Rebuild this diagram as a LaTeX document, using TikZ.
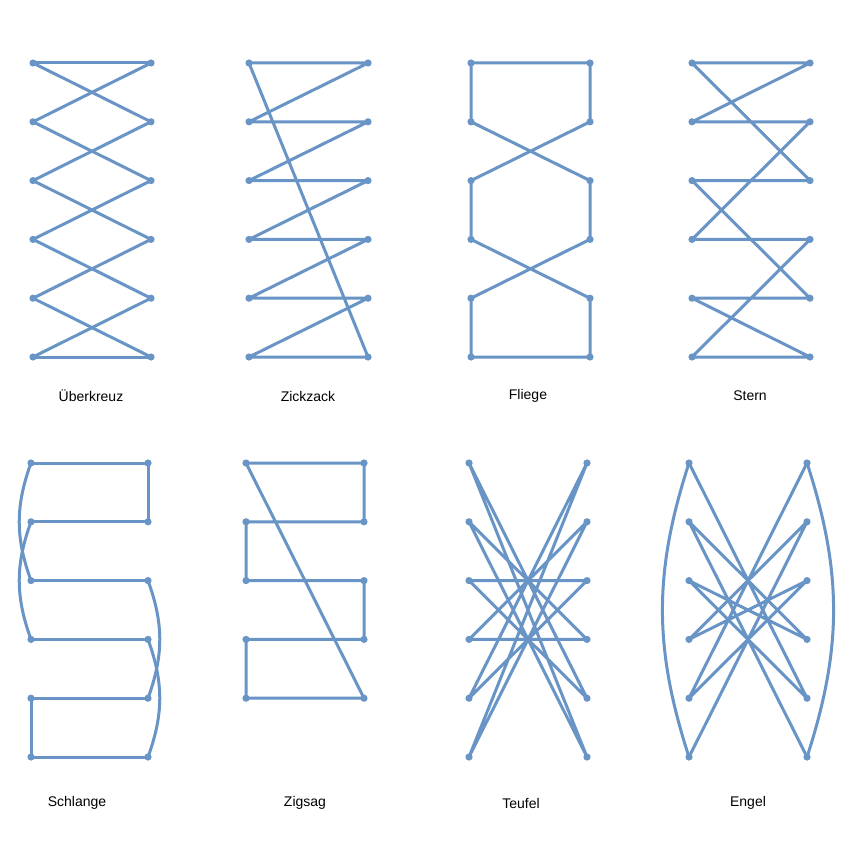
\documentclass[tikz,border=0pt]{standalone}
\usepackage{fontspec}
\setmainfont{Liberation Sans}
\definecolor{lacecol}{RGB}{104,148,198}
\tikzset{
  laceline/.style={draw=lacecol, line width=3pt, line join=round, line cap=round},
  lbl/.style={font=\fontsize{14}{16}\selectfont, text=black, inner sep=0pt},
}
\newcommand\mkpanel[5]{%
  \foreach \i in {0,...,#5} {
    \coordinate (#1L\i) at (#2, #4+58.8*\i);
    \coordinate (#1R\i) at (#3, #4+58.8*\i);
  }}
\newcommand\mkdots[2]{%
  \foreach \i in {0,...,#2} {
    \fill[fill=lacecol] (#1L\i) circle (3.6);
    \fill[fill=lacecol] (#1R\i) circle (3.6);
  }}
\begin{document}
\begin{tikzpicture}[x=1pt,y=-1pt]
\useasboundingbox[fill=white] (0,0) rectangle (850,850);
% coordinates
\mkpanel{a}{33}{151}{63}{5}
\mkpanel{b}{249}{368}{63}{5}
\mkpanel{c}{471}{590}{63}{5}
\mkpanel{d}{692}{810}{63}{5}
\mkpanel{e}{31}{148}{463}{5}
\mkpanel{f}{246}{364}{463}{4}
\mkpanel{g}{469}{587}{463}{5}
\mkpanel{h}{689}{807}{463}{5}
% Ueberkreuz
\draw[laceline] (aL0) -- (aR0);
\draw[laceline] (aL5) -- (aR5);
\foreach \i [evaluate=\i as \j using int(\i+1)] in {0,...,4} {
  \draw[laceline] (aL\i) -- (aR\j);
  \draw[laceline] (aR\i) -- (aL\j);
}
% Zickzack
\draw[laceline] (bL0) -- (bR0) -- (bL1) -- (bR1) -- (bL2) -- (bR2) -- (bL3) -- (bR3) -- (bL4) -- (bR4) -- (bL5) -- (bR5) -- cycle;
% Fliege
\draw[laceline] (cL0) -- (cR0) -- (cR1) -- (cL2) -- (cL3) -- (cR4) -- (cR5) -- (cL5) -- (cL4) -- (cR3) -- (cR2) -- (cL1) -- cycle;
% Stern
\draw[laceline] (dL0) -- (dR2) -- (dL2) -- (dR4) -- (dL4) -- (dR5) -- (dL5) -- (dR3) -- (dL3) -- (dR1) -- (dL1) -- (dR0) -- cycle;
% Schlange
\draw[laceline] (eL0) -- (eR0) -- (eR1) -- (eL1);
\draw[laceline] (eL2) -- (eR2);
\draw[laceline] (eL3) -- (eR3);
\draw[laceline] (eR4) -- (eL4) -- (eL5) -- (eR5);
\draw[laceline] (eL0) to[bend right=20] (eL2);
\draw[laceline] (eL1) to[bend right=20] (eL3);
\draw[laceline] (eR2) to[bend left=20] (eR4);
\draw[laceline] (eR3) to[bend left=20] (eR5);
% Zigsag
\draw[laceline] (fL0) -- (fR0) -- (fR1) -- (fL1) -- (fL2) -- (fR2) -- (fR3) -- (fL3) -- (fL4) -- (fR4) -- cycle;
% Teufel
\draw[laceline] (gL0) -- (gR4) -- (gL2) -- (gR2) -- (gL4) -- (gR0) -- (gL5) -- (gR1) -- (gL3) -- (gR3) -- (gL1) -- (gR5) -- cycle;
% Engel
\draw[laceline] (hL0) -- (hR4) -- (hL2) -- (hR3) -- (hL1) -- (hR5);
\draw[laceline] (hR0) -- (hL4) -- (hR2) -- (hL3) -- (hR1) -- (hL5);
\draw[laceline] (hL0) to[bend right=18] (hL5);
\draw[laceline] (hR0) to[bend left=18] (hR5);
% dots
\mkdots{a}{5}
\mkdots{b}{5}
\mkdots{c}{5}
\mkdots{d}{5}
\mkdots{e}{5}
\mkdots{f}{4}
\mkdots{g}{5}
\mkdots{h}{5}
% labels
\node[lbl] (ta) at (91,396) {Überkreuz};
\node[lbl] (tb) at (308,396) {Zickzack};
\node[lbl] (tc) at (528,396) {Fliege};
\node[lbl] (td) at (750,396) {Stern};
\node[lbl] (te) at (77,803) {Schlange};
\node[lbl] (tf) at (305,803) {Zigsag};
\node[lbl] (tg) at (521,803) {Teufel};
\node[lbl] (th) at (748,803) {Engel};
\end{tikzpicture}
\end{document}
